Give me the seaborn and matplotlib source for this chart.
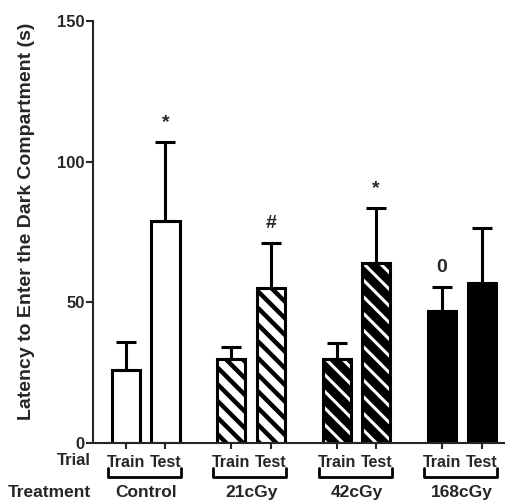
import numpy as np
import pandas as pd
import matplotlib
matplotlib.use("Agg")
import matplotlib.pyplot as plt
import seaborn as sns

# -------------------------------
# DATA
# -------------------------------
groups = ["Control", "21cGy", "42cGy", "168cGy"]
trials = ["Train", "Test"]
latency_mean = [26, 79, 30, 55, 30, 64, 47, 57]
latency_sem = [10, 28, 4, 16, 5.5, 19.5, 8.3, 19.5]
marks = ["", "*", "", "#", "", "*", "0", ""]
yticks = [0, 50, 100, 150]

# -------------------------------
# STYLE
# -------------------------------
sns.set_style("ticks")
plt.rcParams["font.family"] = ["Liberation Sans", "DejaVu Sans"]
plt.rcParams["font.weight"] = "bold"
plt.rcParams["hatch.linewidth"] = 2.8

group_gap = 2.667
rows = []
for g, grp in enumerate(groups):
    for t, tr in enumerate(trials):
        i = g * 2 + t
        rows.append({"group": grp, "trial": tr, "pos": g * group_gap + t,
                     "mean": latency_mean[i], "sem": latency_sem[i]})
df = pd.DataFrame(rows)

fig = plt.figure(figsize=(5.06, 5.01), dpi=100)
ax = fig.add_axes([0.1838, 0.1158, 0.8162, 0.8423])

# fills + hatches
sns.barplot(data=df, x="pos", y="mean", native_scale=True, width=0.71,
            color="white", edgecolor="black", linewidth=0, errorbar=None,
            saturation=1, ax=ax)
for patch, grp in zip(ax.patches, df["group"]):
    if grp == "21cGy":
        patch.set_facecolor("white")
        patch.set_edgecolor("black")
        patch.set_hatch("\\\\")
        if hasattr(patch, "set_hatch_linewidth"):
            patch.set_hatch_linewidth(3.2)
    elif grp == "42cGy":
        patch.set_facecolor("black")
        patch.set_edgecolor("white")
        patch.set_hatch("\\\\")
        if hasattr(patch, "set_hatch_linewidth"):
            patch.set_hatch_linewidth(2.2)
    elif grp == "168cGy":
        patch.set_facecolor("black")
        patch.set_edgecolor("black")
    patch.set_linewidth(0)

# outlines
sns.barplot(data=df, x="pos", y="mean", native_scale=True, width=0.71,
            fill=False, edgecolor="black", linewidth=2.2, errorbar=None,
            ax=ax)

ax.errorbar(df["pos"], df["mean"], yerr=[np.zeros(len(df)), df["sem"]],
            fmt="none", ecolor="black", elinewidth=2.2, capsize=7,
            capthick=2.2, zorder=5)

for x, m, s, lab in zip(df["pos"], df["mean"], df["sem"], marks):
    if lab:
        ax.text(x, m + s + 4, lab, ha="center", va="bottom",
                fontsize=14, fontweight="bold")

ax.set_xlim(-0.835, 9.62)
ax.set_ylim(0, 150)
ax.set_yticks(yticks)
ax.set_xticks(df["pos"])
ax.set_xticklabels(df["trial"], fontsize=11.5, fontweight="bold")
ax.tick_params(axis="y", labelsize=12, length=5, width=1.5, direction="out",
               pad=1)
ax.tick_params(axis="x", length=4, width=1.5, direction="out", pad=5)
for lab in ax.get_yticklabels():
    lab.set_fontweight("bold")
ax.set_xlabel("")
ax.set_ylabel("Latency to Enter the Dark Compartment (s)", fontsize=14,
              fontweight="bold")
ax.yaxis.set_label_coords(-0.14, 0.525)
sns.despine(ax=ax)
ax.spines["left"].set_linewidth(1.5)
ax.spines["bottom"].set_linewidth(1.5)

# trial / treatment labels below the axis
xt = ax.get_xaxis_transform()
for g, grp in enumerate(groups):
    left = g * group_gap - 0.46
    right = g * group_gap + 1 + 0.39
    ax.plot([left, left, right, right], [-0.060, -0.081, -0.081, -0.060],
            transform=xt, color="black", lw=2, clip_on=False)
    ax.text(g * group_gap + 0.5, -0.118, grp, transform=xt, ha="center",
            va="center", fontsize=12.5, fontweight="bold")

fig.text(91 / 506, 1 - 460.5 / 501, "Trial", ha="right", va="center",
         fontsize=12, fontweight="bold")
fig.text(91 / 506, 1 - 492.5 / 501, "Treatment", ha="right", va="center",
         fontsize=12.5, fontweight="bold")

fig.savefig("out.png", dpi=100)
